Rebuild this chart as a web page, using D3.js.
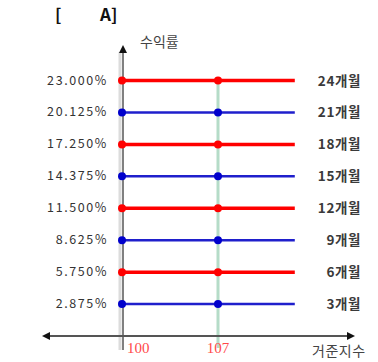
<!DOCTYPE html>
<html>
<head>
<meta charset="utf-8">
<script src="https://cdn.jsdelivr.net/npm/d3@7"></script>
<style>
  body { margin: 0; background: #fff; }
  text { font-family: "Noto Sans CJK KR", sans-serif; }
</style>
</head>
<body>
<div class="chart"></div>
<script>
const periods = ['3개월', '6개월', '9개월', '12개월', '15개월', '18개월', '21개월', '24개월']
const yields = [2.875, 5.75, 8.625, 11.5, 14.375, 17.25, 20.125, 23.0]
const xTicks = [100, 107]
const xEnd = 112.6

const width = 378
const height = 362

var xScale = d3.scaleLinear().domain([100, 107]).range([122, 218])
var yScale = d3.scaleLinear().domain([0, 23]).range([336, 80.5])
var fmt = d3.format('.3f')

const svg = d3.select('.chart')
  .append('svg')
  .attr('width', width)
  .attr('height', height)

// title
svg.append('text')
  .attr('x', 55)
  .attr('y', 21)
  .attr('font-size', 17)
  .attr('font-weight', 'bold')
  .attr('fill', '#111')
  .text('[')
svg.append('text')
  .attr('x', 100)
  .attr('y', 21)
  .attr('font-size', 17)
  .attr('font-weight', 'bold')
  .attr('fill', '#111')
  .text('A]')

// light green guide at 107
svg.append('line')
  .attr('x1', xScale(107)).attr('x2', xScale(107))
  .attr('y1', yScale(23)).attr('y2', 348)
  .attr('stroke', '#b5dcc8')
  .attr('stroke-width', 3)

// y axis with pale band
svg.append('line')
  .attr('x1', xScale(100) - 2).attr('x2', xScale(100) - 2)
  .attr('y1', 52).attr('y2', 350)
  .attr('stroke', '#dcdcdc')
  .attr('stroke-width', 3)
svg.append('line')
  .attr('x1', xScale(100) + 1).attr('x2', xScale(100) + 1)
  .attr('y1', 52).attr('y2', 350)
  .attr('stroke', '#808080')
  .attr('stroke-width', 2)
svg.append('path')
  .attr('d', 'M' + (xScale(100) + 1) + ',45 l-4,8 h8 z')
  .attr('fill', '#111')

// x axis
svg.append('line')
  .attr('x1', 48).attr('x2', 348)
  .attr('y1', yScale(0)).attr('y2', yScale(0))
  .attr('stroke', '#555')
  .attr('stroke-width', 2)
svg.append('path')
  .attr('d', 'M42,' + yScale(0) + ' l8,-4 v8 z')
  .attr('fill', '#111')
svg.append('path')
  .attr('d', 'M355,' + yScale(0) + ' l-8,-4 v8 z')
  .attr('fill', '#111')

var rows = yields.map((v, i) => ({ v: v, p: periods[i], red: i % 2 == 1 }))

svg.selectAll('.row')
  .data(rows)
  .enter()
  .append('line')
  .attr('class', 'row')
  .attr('x1', xScale(100))
  .attr('x2', xScale(xEnd))
  .attr('y1', d => yScale(d.v))
  .attr('y2', d => yScale(d.v))
  .attr('stroke', d => d.red ? '#ff0000' : '#1f1fcc')
  .attr('stroke-width', d => d.red ? 3.5 : 2.5)

xTicks.forEach(t => {
  svg.selectAll('.dot' + t)
    .data(rows)
    .enter()
    .append('circle')
    .attr('cx', xScale(t))
    .attr('cy', d => yScale(d.v))
    .attr('r', 4)
    .attr('fill', d => d.red ? '#ff0000' : '#0000cc')
})

svg.selectAll('.ylab')
  .data(rows)
  .enter()
  .append('text')
  .attr('x', 108)
  .attr('y', d => yScale(d.v) + 4)
  .attr('text-anchor', 'end')
  .attr('font-size', 12.5)
  .attr('letter-spacing', 1.6)
  .attr('fill', '#333')
  .text(d => fmt(d.v) + '%')

svg.selectAll('.rlab')
  .data(rows)
  .enter()
  .append('text')
  .attr('x', 361)
  .attr('y', d => yScale(d.v) + 5)
  .attr('text-anchor', 'end')
  .attr('font-size', 13.5)
  .attr('font-weight', 'bold')
  .attr('letter-spacing', 0.6)
  .attr('fill', '#3a3a3a')
  .text(d => d.p)

svg.selectAll('.xlab')
  .data(xTicks)
  .enter()
  .append('text')
  .attr('x', d => d == 100 ? xScale(d) + 5 : xScale(d))
  .attr('y', 353)
  .attr('text-anchor', d => d == 100 ? 'start' : 'middle')
  .attr('font-size', 15)
  .style('font-family', '"Liberation Serif", serif')
  .attr('fill', '#ff4a4a')
  .text(d => d)

svg.append('text')
  .attr('x', 140)
  .attr('y', 47)
  .attr('font-size', 14)
  .attr('fill', '#444')
  .text('수익률')

svg.append('text')
  .attr('x', 312)
  .attr('y', 356)
  .attr('font-size', 14)
  .attr('letter-spacing', 0.5)
  .attr('fill', '#444')
  .text('거준지수')
</script>
</body>
</html>
